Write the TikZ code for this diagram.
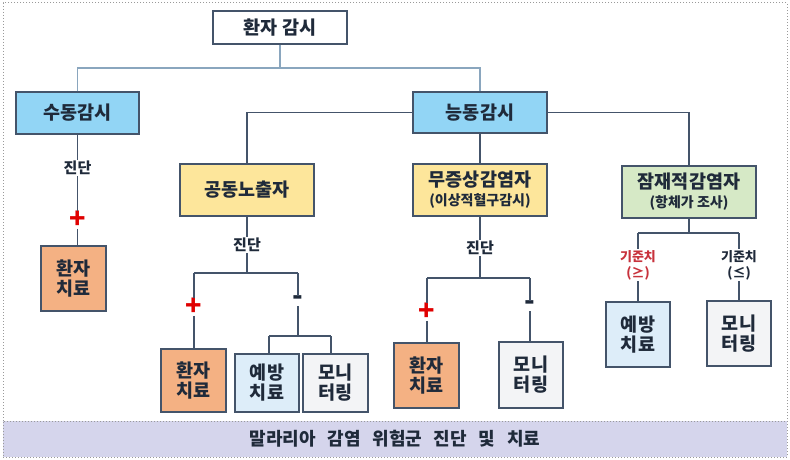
\documentclass[tikz,border=0pt]{standalone}
\usepackage{fontspec}
\setmainfont{Noto Sans CJK KR}
\definecolor{boxline}{HTML}{44546A}
\definecolor{lineC}{HTML}{44546A}
\definecolor{topline}{HTML}{8AA6BE}
\definecolor{txt}{HTML}{1F2A3A}
\definecolor{fblue}{HTML}{92D5F5}
\definecolor{fyellow}{HTML}{FDE69B}
\definecolor{fgreen}{HTML}{D6E9C6}
\definecolor{forange}{HTML}{F4B183}
\definecolor{flblue}{HTML}{DDEDF9}
\definecolor{fgray}{HTML}{F3F4F6}
\definecolor{fband}{HTML}{D5D5EC}
\definecolor{pred}{HTML}{E00000}
\definecolor{tred}{HTML}{C8323C}
\definecolor{frame}{HTML}{9A9A9A}
\begin{document}
\begin{tikzpicture}[x=1pt,y=-1pt,
  box/.style={draw=boxline, line width=1.3pt, inner sep=0pt, align=center, text=txt,
    font=\bfseries\fontsize{18.5}{20}\selectfont},
  conn/.style={draw=lineC, line width=1.4pt},
  topconn/.style={draw=topline, line width=1.4pt},
  lbl/.style={font=\bfseries\fontsize{15}{15}\selectfont, text=txt, inner sep=1pt},
  crit/.style={font=\bfseries\fontsize{13}{16}\selectfont, align=center, inner sep=1pt},
  plussign/.style={font=\bfseries\fontsize{27}{27}\selectfont, text=pred, inner sep=0pt},
  minussign/.style={font=\bfseries\fontsize{28}{28}\selectfont, text=txt, inner sep=0pt}
]
\useasboundingbox (0,0) rectangle (790,460);
\fill[white] (0,0) rectangle (790,460);
% frame and band
\node[draw=frame, dotted, line width=1pt, minimum width=784pt, minimum height=454pt, inner sep=0pt] (frm) at (395,230) {};
\node[draw=frame, dotted, fill=fband, line width=1pt, minimum width=784pt, minimum height=36pt, inner sep=0pt,
  font=\bfseries\fontsize{18}{19}\selectfont, text=txt] (band) at (395,439)
  {말라리아\hspace{0.65em}감염\hspace{0.65em}위험군\hspace{0.65em}진단\hspace{0.65em}및\hspace{0.65em}치료};

% level 0,1
\node[box, fill=white, minimum width=134pt, minimum height=33pt] (T) at (280,27.5) {환자 감시};
\node[box, fill=fblue, minimum width=123pt, minimum height=42pt] (P) at (77.5,113) {수동감시};
\node[box, fill=fblue, minimum width=134pt, minimum height=41pt] (A) at (480,112.5) {능동감시};
\coordinate (j0) at (280,68);
\draw[topconn] (T.south) -- (j0);
\draw[topconn] (P.north) |- (A.north |- j0) -- (A.north);

% level 2
\node[box, fill=fyellow, minimum width=134pt, minimum height=52pt] (C) at (247,190) {공동노출자};
\node[box, fill=fyellow, minimum width=134pt, minimum height=52pt] (S) at (480,190)
  {\fontsize{18.5}{16}\selectfont 무증상감염자\\[-1pt]{\fontsize{14}{15}\selectfont (이상적혈구감시)}};
\node[box, fill=fgreen, minimum width=134pt, minimum height=52pt] (L) at (689,192)
  {\fontsize{18.5}{16}\selectfont 잠재적감염자\\[-1pt]{\fontsize{14}{15}\selectfont (항체가 조사)}};
\draw[conn] (A.west) -| (C.north);
\draw[conn] (A.east) -| (L.north);
\draw[conn] (A.south) -- (S.north);

% 수동감시 branch
\node[lbl] (d1) at (77.5,168) {진단};
\node[plussign] (p1) at (77.5,220) {+};
\node[box, fill=forange, minimum width=65pt, minimum height=65pt] (R1) at (73.5,278.5) {환자\\치료};
\draw[conn] (P.south) -- (d1.north);
\draw[conn] (d1.south) -- (p1.north);
\draw[conn] (p1.south) -- (p1.south |- R1.north);

% 공동노출자 branch
\node[lbl] (d2) at (247,245) {진단};
\coordinate (j2) at (247,273);
\coordinate (j2l) at (194,273);
\coordinate (j2r) at (298,273);
\node[plussign] (p2) at (194,307) {+};
\node[minussign] (m2) at (298,301) {-};
\node[box, fill=forange, minimum width=65pt, minimum height=63pt] (R2) at (193.5,380.5) {환자\\치료};
\node[box, fill=flblue, minimum width=64pt, minimum height=58pt] (V2) at (267,383) {예방\\치료};
\node[box, fill=fgray, minimum width=65pt, minimum height=58pt] (M2) at (335.5,383) {모니\\터링};
\coordinate (k2) at (298,336);
\coordinate (k2l) at (269,336);
\coordinate (k2r) at (331,336);
\draw[conn] (C.south) -- (d2.north);
\draw[conn] (d2.south) -- (j2);
\draw[conn] (j2l) -- (j2r);
\draw[conn] (j2l) -- (p2.north);
\draw[conn] (p2.south) -- (p2.south |- R2.north);
\draw[conn] (j2r) -- (m2.north);
\draw[conn] (m2.south) -- (k2);
\draw[conn] (k2l) -- (k2r);
\draw[conn] (k2l) -- (k2l |- V2.north);
\draw[conn] (k2r) -- (k2r |- M2.north);

% 무증상감염자 branch
\node[lbl] (d3) at (480,248) {진단};
\coordinate (j3) at (480,278);
\coordinate (j3l) at (427,278);
\coordinate (j3r) at (530,278);
\node[plussign] (p3) at (427,312) {+};
\node[minussign] (m3) at (530,306) {-};
\node[box, fill=forange, minimum width=65pt, minimum height=65pt] (R3) at (426.5,375.5) {환자\\치료};
\node[box, fill=fgray, minimum width=64pt, minimum height=66pt] (M3) at (531,375) {모니\\터링};
\draw[conn] (S.south) -- (d3.north);
\draw[conn] (d3.south) -- (j3);
\draw[conn] (j3l) -- (j3r);
\draw[conn] (j3l) -- (p3.north);
\draw[conn] (p3.south) -- (p3.south |- R3.north);
\draw[conn] (j3r) -- (m3.north);
\draw[conn] (m3.south) -- (m3.south |- M3.north);

% 잠재적감염자 branch
\coordinate (j4) at (689,233);
\coordinate (j4l) at (638,233);
\coordinate (j4r) at (739,233);
\node[crit, text=tred] (g1) at (638,265) {기준치\\(≥)};
\node[crit, text=txt] (g2) at (739,265) {기준치\\(≤)};
\node[box, fill=flblue, minimum width=64pt, minimum height=65pt] (V4) at (638,334.5) {예방\\치료};
\node[box, fill=fgray, minimum width=64pt, minimum height=65pt] (M4) at (739,333.5) {모니\\터링};
\draw[conn] (L.south) -- (j4);
\draw[conn] (j4l) -- (j4r);
\draw[conn] (j4l) -- (g1.north);
\draw[conn] (j4r) -- (g2.north);
\draw[conn] (g1.south) -- (g1.south |- V4.north);
\draw[conn] (g2.south) -- (g2.south |- M4.north);
\end{tikzpicture}
\end{document}
